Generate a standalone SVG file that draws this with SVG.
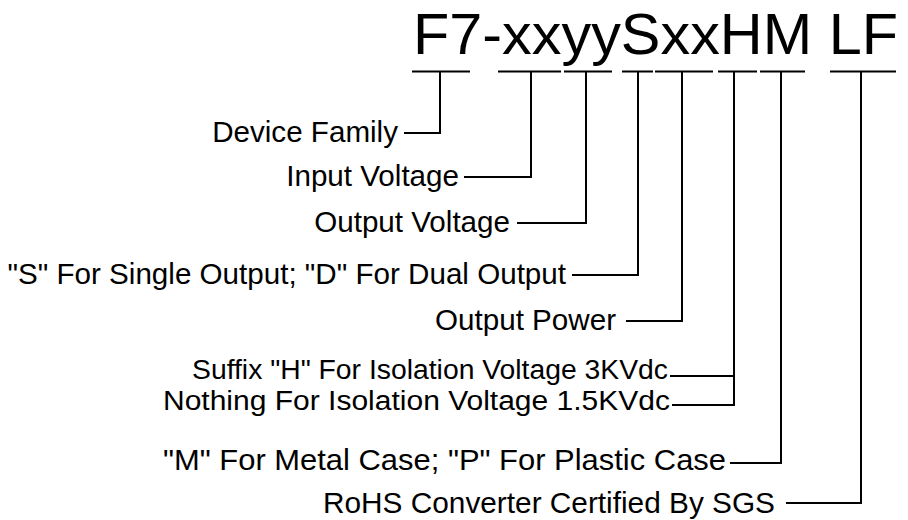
<svg xmlns="http://www.w3.org/2000/svg" width="908" height="520" viewBox="0 0 908 520">
<style>
text{font-family:"Liberation Sans",Arial,sans-serif;fill:#000}
.t{font-size:58px}
.l{font-size:29.6px;text-anchor:end}
.s{font-size:27px}
.c{fill:none;stroke:#000;stroke-width:2}
</style>
<rect width="908" height="520" fill="#fff"/>
<g id="title"><text class="t" x="413" y="54" textLength="485" lengthAdjust="spacingAndGlyphs">F7-xxyySxxHM LF</text></g>
<g id="n-family"><text class="l" x="398" y="142">Device Family</text></g>
<g id="n-input"><text class="l" x="459" y="186">Input Voltage</text></g>
<g id="n-output"><text class="l" x="510" y="232">Output Voltage</text></g>
<g id="n-sd"><text class="l" x="566" y="284">"S" For Single Output; "D" For Dual Output</text></g>
<g id="n-power"><text class="l" x="616" y="330">Output Power</text></g>
<g id="n-h"><text class="l s" x="668" y="379" textLength="476" lengthAdjust="spacingAndGlyphs">Suffix "H" For Isolation Voltage 3KVdc</text></g>
<g id="n-nothing"><text class="l s" x="670" y="410" textLength="507" lengthAdjust="spacingAndGlyphs">Nothing For Isolation Voltage 1.5KVdc</text></g>
<g id="n-case"><text class="l" x="726" y="470" textLength="563" lengthAdjust="spacingAndGlyphs">"M" For Metal Case; "P" For Plastic Case</text></g>
<g id="n-rohs"><text class="l" x="775" y="513" textLength="452" lengthAdjust="spacingAndGlyphs">RoHS Converter Certified By SGS</text></g>
<g id="connectors" class="c">
<path d="M412 71.5H470M498 71.5H561M564 71.5H612M622 71.5H653M655 71.5H713M718 71.5H757M760 71.5H805M830 71.5H896"/>
<path d="M440 71.5V133H404"/>
<path d="M531 71.5V177H464"/>
<path d="M586 71.5V223H517"/>
<path d="M638 71.5V275H572"/>
<path d="M682 71.5V321H626"/>
<path d="M734 71.5V405H672M734 376H670"/>
<path d="M781 71.5V463H730"/>
<path d="M861 71.5V503H786"/>
</g>
</svg>
